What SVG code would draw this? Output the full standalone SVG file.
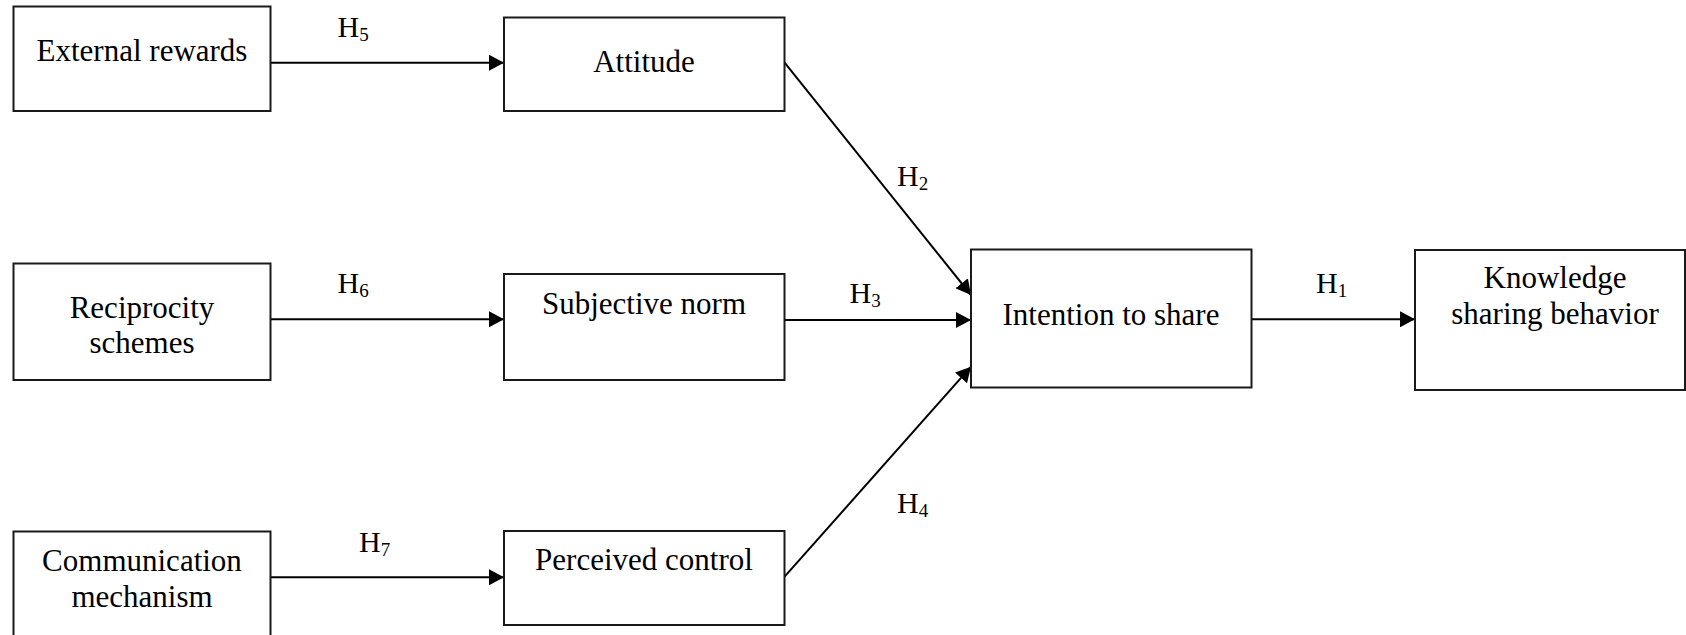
<svg xmlns="http://www.w3.org/2000/svg" width="1686" height="635" viewBox="0 0 1686 635">
<style>
.box{fill:#fff;stroke:#1a1a1a;stroke-width:2}
.t{font-family:"Liberation Serif","Times New Roman",serif;font-size:31px;fill:#000;text-anchor:middle}
.h{font-family:"Liberation Serif","Times New Roman",serif;font-size:30px;fill:#000}
.sub{font-size:19px}
.c{stroke:#000;stroke-width:2;fill:none;marker-end:url(#arr)}
</style>
<defs>
<marker id="arr" markerUnits="userSpaceOnUse" markerWidth="16" markerHeight="16" refX="15" refY="8" orient="auto">
<path d="M0,0 L15,8 L0,16 z" fill="#000"/>
</marker>
</defs>
<rect width="1686" height="635" fill="#fff"/>
<g id="connectors">
<line class="c" x1="270.7" y1="62.7" x2="504" y2="62.7"/>
<line class="c" x1="270.7" y1="319.3" x2="504" y2="319.3"/>
<line class="c" x1="270.7" y1="577.3" x2="504" y2="577.3"/>
<line class="c" x1="784.6" y1="62.7" x2="971" y2="295"/>
<line class="c" x1="784.6" y1="320" x2="971" y2="320"/>
<line class="c" x1="784.6" y1="576.7" x2="971" y2="366.7"/>
<line class="c" x1="1251.4" y1="319.3" x2="1415" y2="319.3"/>
<text class="h" x="337.5" y="37">H<tspan class="sub" dy="4">5</tspan></text>
<text class="h" x="337.5" y="293">H<tspan class="sub" dy="4">6</tspan></text>
<text class="h" x="359" y="552">H<tspan class="sub" dy="4">7</tspan></text>
<text class="h" x="897" y="186">H<tspan class="sub" dy="4">2</tspan></text>
<text class="h" x="849.6" y="303">H<tspan class="sub" dy="4">3</tspan></text>
<text class="h" x="897" y="513">H<tspan class="sub" dy="4">4</tspan></text>
<text class="h" x="1316" y="293">H<tspan class="sub" dy="4">1</tspan></text>
</g>
<g id="external">
<rect class="box" x="13.5" y="6.5" width="257" height="104.5"/>
<text class="t" x="142" y="61">External rewards</text>
</g>
<g id="attitude">
<rect class="box" x="504" y="17.5" width="280.5" height="93.5"/>
<text class="t" x="644" y="71.5">Attitude</text>
</g>
<g id="reciprocity">
<rect class="box" x="13.5" y="263.5" width="257" height="116.5"/>
<text class="t" x="142" y="318">Reciprocity</text>
<text class="t" x="142" y="353">schemes</text>
</g>
<g id="subjective">
<rect class="box" x="504" y="274" width="280.5" height="106"/>
<text class="t" x="644" y="314">Subjective norm</text>
</g>
<g id="communication">
<rect class="box" x="13.5" y="531.5" width="257" height="120"/>
<text class="t" x="142" y="571">Communication</text>
<text class="t" x="142" y="606.5">mechanism</text>
</g>
<g id="perceived">
<rect class="box" x="504" y="531" width="280.5" height="94"/>
<text class="t" x="644" y="570">Perceived control</text>
</g>
<g id="intention">
<rect class="box" x="971" y="249.5" width="280.5" height="138"/>
<text class="t" x="1111" y="325">Intention to share</text>
</g>
<g id="knowledge">
<rect class="box" x="1415" y="250" width="270" height="140"/>
<text class="t" x="1555" y="288">Knowledge</text>
<text class="t" x="1555" y="324">sharing behavior</text>
</g>
</svg>
